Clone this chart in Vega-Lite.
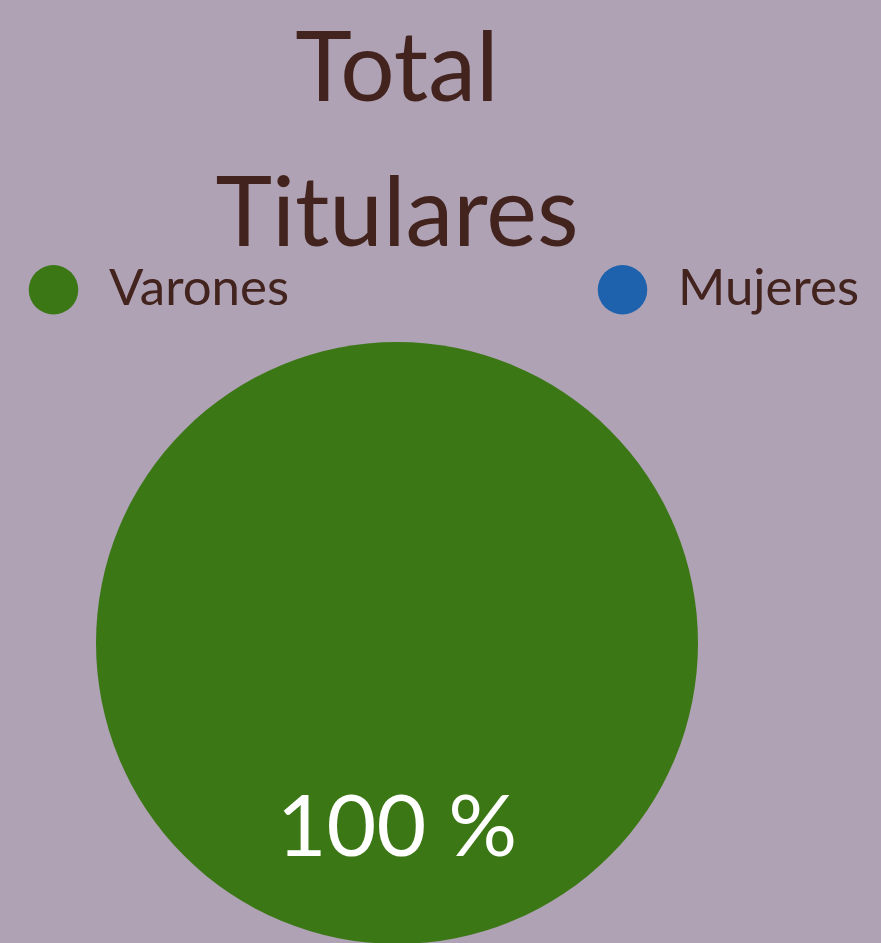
{
  "$schema": "https://vega.github.io/schema/vega-lite/v6.json",
  "autosize": {"type": "none"},
  "width": 794,
  "height": 602,
  "padding": {"left": 0, "top": 342, "right": 87, "bottom": 0},
  "background": "#AEA2B4",
  "title": {
    "text": ["Total", "Titulares"],
    "font": "Lato",
    "fontSize": 96,
    "fontWeight": "normal",
    "lineHeight": 145,
    "color": "#43231E",
    "anchor": "middle",
    "offset": -2
  },
  "config": {
    "view": {"stroke": null},
    "font": "Lato"
  },
  "data": {
    "values": [
      {"genero": "Varones", "valor": 100, "etiqueta": "100 %"},
      {"genero": "Mujeres", "valor": 0, "etiqueta": "0 %"}
    ]
  },
  "encoding": {
    "theta": {"field": "valor", "type": "quantitative", "stack": true},
    "color": {
      "field": "genero",
      "type": "nominal",
      "sort": ["Varones", "Mujeres"],
      "scale": {"domain": ["Varones", "Mujeres"], "range": ["#3C7716", "#1E62AD"]},
      "legend": {
        "title": null,
        "orient": "none",
        "direction": "horizontal",
        "legendX": 28,
        "legendY": -78,
        "symbolType": "circle",
        "symbolSize": 2450,
        "symbolStrokeWidth": 0,
        "symbolOpacity": 1,
        "labelFont": "Lato",
        "labelFontSize": 51,
        "labelColor": "#43231E",
        "labelOffset": 30,
        "labelLimit": 400,
        "columnPadding": 307,
        "padding": 0
      }
    },
    "order": {"field": "genero", "sort": "descending"}
  },
  "layer": [
    {"mark": {"type": "arc", "stroke": null}},
    {
      "transform": [{"filter": "datum.valor > 0"}],
      "mark": {
        "type": "text",
        "radius": 187,
        "font": "Lato",
        "fontSize": 86,
        "color": "#FFFFFF",
        "align": "center",
        "baseline": "middle"
      },
      "encoding": {
        "text": {"field": "etiqueta", "type": "nominal"},
        "color": {"value": "#FFFFFF"}
      }
    }
  ]
}
